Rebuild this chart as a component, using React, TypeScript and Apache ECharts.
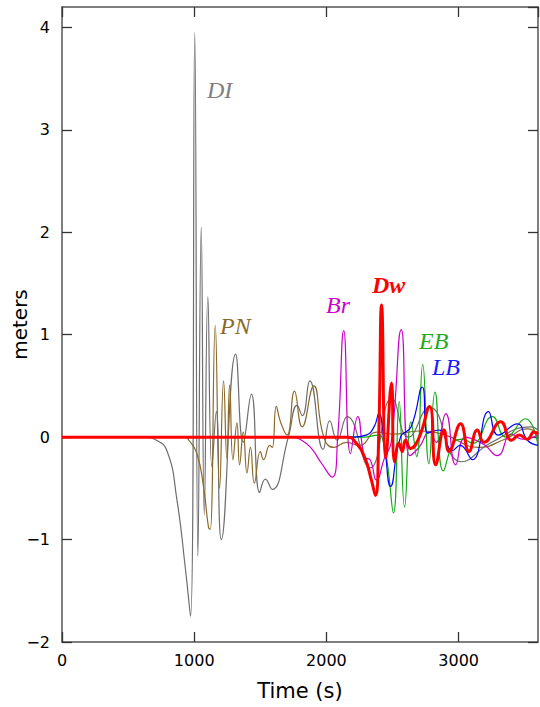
import React, { useEffect, useRef } from "react";
import * as echarts from "echarts";

// Time (s) vs displacement (meters)
const DI: [number, number][] = [
  [0, 0], [640, 0], [700, -0.02], [793, -0.13], [869, -0.61], [932, -1.27], [972, -1.75],
  [1004, 3.95], [1028, -1.16], [1053, 2.05], [1076, -0.76], [1103, 1.37], [1134, -0.29],
  [1167, 0.25], [1205, -1.0], [1313, 0.81], [1371, -0.05], [1432, 0.42], [1495, -0.54],
  [1538, -0.41], [1589, -0.51], [1712, 0], [1778, 0.31], [1818, 0.21], [1874, 0.55],
  [1975, -0.12], [2025, 0.16], [2080, -0.03], [2157, 0.2], [2330, -0.3], [2495, 0.38],
  [2620, 0.0], [2780, 0.29], [3020, -0.24], [3250, -0.05], [3545, 0.1], [3600, 0.07],
];

const PN: [number, number][] = [
  [0, 0], [930, 0], [960, -0.03], [1020, -0.16], [1070, -0.48], [1108, -0.88], [1121, -0.9],
  [1159, 1.09], [1192, -0.5], [1222, 0.55], [1247, -0.21], [1268, 0.51], [1293, -0.22],
  [1323, 0.14], [1343, -0.27], [1371, 0.05], [1399, -0.35], [1425, -0.1], [1455, -0.45],
  [1500, -0.14], [1525, -0.22], [1571, -0.08], [1590, -0.1], [1621, 0.3], [1652, 0.15],
  [1702, 0.02], [1758, 0.45], [1816, 0.1], [1904, 0.5], [1980, 0.0], [2056, -0.1],
  [2150, -0.05], [2250, -0.08], [2380, 0.05], [2500, 0.03], [2700, 0.06], [2900, 0.02],
  [3150, -0.1], [3350, -0.02], [3520, 0.08], [3600, 0.03],
];

const Br: [number, number][] = [
  [0, 0], [1740, 0], [1800, -0.02], [1880, -0.1], [1960, -0.25], [2043, -0.39], [2085, 0.0],
  [2131, 1.04], [2182, -0.16], [2237, 0.2], [2290, -0.2], [2330, -0.22], [2378, -0.42],
  [2440, -0.2], [2490, -0.05], [2566, 1.05], [2630, -0.18], [2700, -0.1], [2780, 0.05],
  [2830, -0.05], [2902, 0.23], [2977, -0.27], [3050, 0.0], [3130, -0.03], [3200, -0.08],
  [3293, -0.18], [3400, 0.03], [3480, -0.02], [3600, 0.02],
];

const EB: [number, number][] = [
  [0, 0], [2280, 0], [2396, 0.02], [2420, 0.0], [2460, -0.25], [2507, -0.74], [2550, 0.35],
  [2591, -0.68], [2640, 0.15], [2682, -0.19], [2728, 0.71], [2775, -0.26], [2821, 0.44],
  [2884, -0.33], [2965, -0.05], [3030, -0.02], [3106, -0.06], [3255, 0.2], [3356, 0.0],
  [3505, 0.18], [3600, -0.08],
];

const LB: [number, number][] = [
  [0, 0], [2200, 0], [2300, 0.02], [2360, 0.1], [2396, 0.23], [2440, -0.1], [2485, -0.48],
  [2560, 0.0], [2640, 0.1], [2725, 0.49], [2765, 0.04], [2851, 0.07], [2952, -0.13],
  [3010, -0.08], [3104, -0.22], [3225, 0.25], [3300, 0.02], [3444, 0.13], [3520, -0.03],
  [3600, -0.08],
];

const Dw: [number, number][] = [
  [0, 0], [2160, 0], [2220, -0.05], [2290, -0.2], [2340, -0.42], [2371, -0.57], [2395, 0.0],
  [2417, 1.29], [2450, -0.2], [2492, 0.53], [2515, -0.24], [2548, -0.06], [2573, -0.14],
  [2598, -0.03], [2636, -0.11], [2699, -0.01], [2780, 0.3], [2826, -0.27], [2889, 0.07],
  [2927, -0.14], [3015, 0.13], [3078, -0.14], [3141, 0.07], [3191, -0.05], [3318, 0.15],
  [3399, -0.03], [3460, 0.02], [3520, -0.02], [3570, 0.05], [3600, 0.03],
];

const seriesNames = ["DI", "PN", "Br", "EB", "LB", "Dw"];

export default function App() {
  const ref = useRef<HTMLDivElement>(null);
  useEffect(() => {
    const chart = echarts.init(ref.current!, null, { renderer: "svg" });
    const frame = { show: true, onZero: false, lineStyle: { color: "#555", width: 1.5 } };
    const tick = { show: true, inside: true, length: 10, lineStyle: { color: "#333", width: 1.3 } };
    const fmt = (v: number) => (v < 0 ? "\u2212" + Math.abs(v) : String(v));
    const labelFont = (bold: boolean) =>
      `italic ${bold ? "bold " : ""}24px "Liberation Serif"`;
    const labels = [
      { text: "DI", x: 207, y: 90, color: "#808080", bold: false },
      { text: "PN", x: 220, y: 326, color: "#8b6a2b", bold: false },
      { text: "Br", x: 326, y: 305, color: "#cc00cc", bold: false },
      { text: "Dw", x: 372, y: 285, color: "#ff0000", bold: true },
      { text: "EB", x: 419, y: 341, color: "#22aa22", bold: false },
      { text: "LB", x: 432, y: 367, color: "#1a1aff", bold: false },
    ];
    const mk = (name: string, data: [number, number][], color: string, width: number) => ({
      name,
      type: "line",
      data,
      smooth: true,
      showSymbol: false,
      symbol: "none",
      lineStyle: { color, width },
      itemStyle: { color },
      xAxisIndex: 0,
      yAxisIndex: 0,
    });
    chart.setOption({
      animation: false,
      backgroundColor: "#fff",
      grid: { left: 62, right: 2, top: 7, bottom: 65, containLabel: false, outerBoundsMode: "none" },
      xAxis: [
        {
          type: "value", min: 0, max: 3600, interval: 1000, position: "bottom",
          axisLine: frame, axisTick: tick, splitLine: { show: false },
          axisLabel: { color: "#000", fontSize: 16, fontFamily: "DejaVu Sans", margin: 10, showMaxLabel: false, formatter: fmt },
          name: "Time (s)", nameLocation: "middle", nameGap: 38,
          nameTextStyle: { color: "#000", fontSize: 21, fontFamily: "DejaVu Sans" },
        },
        {
          type: "value", min: 0, max: 3600, interval: 1000, position: "top",
          axisLine: frame, axisTick: tick, splitLine: { show: false }, axisLabel: { show: false },
        },
      ],
      yAxis: [
        {
          type: "value", min: -2, max: 4.2, interval: 1, position: "left",
          axisLine: frame, axisTick: tick, splitLine: { show: false },
          axisLabel: { color: "#000", fontSize: 16, fontFamily: "DejaVu Sans", margin: 12, showMaxLabel: false, formatter: fmt },
          name: "meters", nameLocation: "middle", nameGap: 32, nameMoveOverlap: false,
          nameTextStyle: { color: "#000", fontSize: 20, fontFamily: "DejaVu Sans" },
        },
        {
          type: "value", min: -2, max: 4.2, interval: 1, position: "right",
          axisLine: frame, axisTick: tick, splitLine: { show: false }, axisLabel: { show: false },
        },
      ],
      series: [
        mk(seriesNames[0], DI, "#6e6e6e", 1.2),
        mk(seriesNames[1], PN, "#8b6a2b", 1.2),
        mk(seriesNames[2], Br, "#cc00cc", 1.2),
        mk(seriesNames[3], EB, "#11aa11", 1.2),
        mk(seriesNames[4], LB, "#0000ff", 1.2),
        mk(seriesNames[5], Dw, "#ff0000", 3),
      ],
      graphic: labels.map((l) => ({
        type: "text",
        x: l.x,
        y: l.y,
        z: 100,
        style: { text: l.text, fill: l.color, font: labelFont(l.bold), verticalAlign: "middle", align: "left" },
      })),
    });
    return () => chart.dispose();
  }, []);
  return <div ref={ref} style={{ position: "fixed", left: 0, top: 0, width: 540, height: 707 }} />;
}
